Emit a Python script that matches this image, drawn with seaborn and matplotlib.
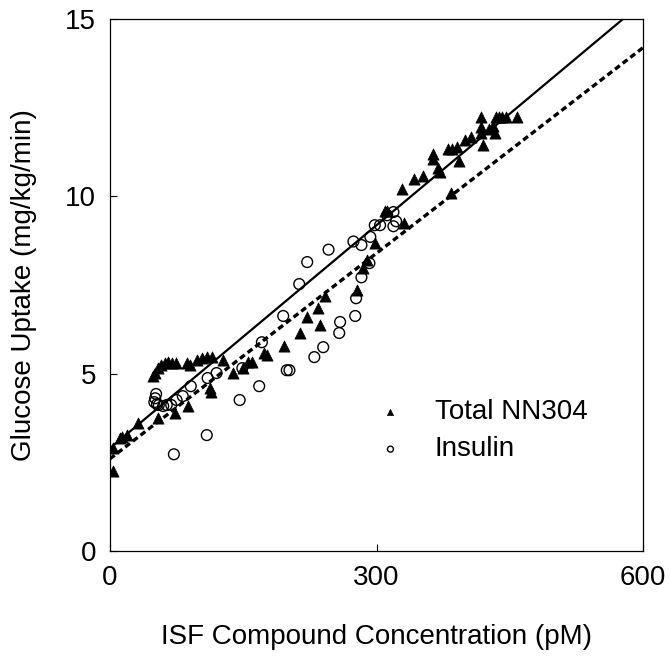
import matplotlib
matplotlib.use("Agg")
import matplotlib.pyplot as plt
import seaborn as sns
import pandas as pd

# dados
nn304_x = [3, 3, 11, 14, 19, 32, 54, 73, 88, 113, 114,
           48, 51, 54, 58, 62, 65, 70, 74,
           87, 90, 98, 104, 109, 115, 127, 138, 150, 155, 160,
           173, 177, 196, 214, 222, 234, 236, 242, 278, 285, 289, 298,
           310, 312, 331, 329, 342, 352, 364, 364, 369, 371, 380, 385, 390,
           393, 399, 406, 417, 417, 417, 420, 426, 431, 433, 434, 438, 441,
           446, 458, 384]
nn304_y = [2.26, 2.9, 3.19, 3.21, 3.27, 3.6, 3.75, 3.9, 4.1, 4.6, 4.5,
           4.93, 5.02, 5.16, 5.24, 5.3, 5.33, 5.3, 5.3,
           5.3, 5.24, 5.38, 5.44, 5.47, 5.47, 5.38, 5.02, 5.16, 5.33, 5.33,
           5.58, 5.52, 5.78, 6.15, 6.6, 6.85, 6.37, 7.2, 7.36, 7.98, 8.2, 8.69,
           9.6, 9.6, 9.24, 10.2, 10.5, 10.57, 11.2, 11.07, 10.8, 10.7, 11.33, 11.33, 11.4,
           11.0, 11.59, 11.67, 12.23, 11.95, 11.8, 11.45, 11.9, 11.98, 11.78, 12.23, 12.23, 12.23,
           12.23, 12.23, 10.1]

insulin_x = [52, 51, 50, 53, 55, 60, 64, 69, 75, 82, 91, 72, 109, 110, 120,
             146, 149, 168, 171, 195, 199, 202, 213, 222, 230, 240, 246,
             258, 259, 274, 276, 277, 283, 283, 292, 293, 298, 304,
             312, 319, 322, 319]
insulin_y = [4.43, 4.31, 4.2, 4.14, 4.12, 4.09, 4.12, 4.12, 4.26, 4.37, 4.65, 2.73, 3.27, 4.88, 5.02,
             4.26, 5.16, 4.65, 5.89, 6.63, 5.1, 5.1, 7.53, 8.15, 5.47, 5.75, 8.5,
             6.15, 6.46, 8.73, 6.63, 7.13, 7.72, 8.63, 8.12, 8.86, 9.19, 9.19,
             9.47, 9.56, 9.3, 9.16]

# retas de regressao
fit_x = [0, 600]
fit_nn304 = [2.9, 15.48]
fit_insulin = [2.6, 14.2]

df_nn = pd.DataFrame({'x': nn304_x, 'y': nn304_y})
df_ins = pd.DataFrame({'x': insulin_x, 'y': insulin_y})
df_fit = pd.DataFrame({'x': fit_x, 'nn': fit_nn304, 'ins': fit_insulin})

sns.set_style("ticks", {'axes.edgecolor': 'black', 'text.color': 'black',
                        'axes.labelcolor': 'black', 'xtick.color': 'black',
                        'ytick.color': 'black'})
plt.rcParams['font.family'] = ['Liberation Sans', 'DejaVu Sans']

fig, ax = plt.subplots(figsize=(6.7, 6.6), dpi=100)
fig.subplots_adjust(left=0.164, right=0.96, bottom=0.165, top=0.971)

sns.lineplot(data=df_fit, x='x', y='nn', ax=ax, color='black', lw=1.6, legend=False)
sns.lineplot(data=df_fit, x='x', y='ins', ax=ax, color='black', lw=2.4, legend=False)
ax.lines[-1].set_linestyle((0, (1.8, 1.1)))

sns.scatterplot(data=df_nn, x='x', y='y', ax=ax, marker='^', s=65, color='black',
                edgecolor='black', linewidth=0.5, label='Total NN304')
sns.scatterplot(data=df_ins, x='x', y='y', ax=ax, marker='o', s=60, facecolor='none',
                edgecolor='black', linewidth=1.0, label='Insulin')

ax.set_xlim(0, 600)
ax.set_ylim(0, 15)
ax.set_xticks([0, 300, 600])
ax.set_yticks([0, 5, 10, 15])
ax.tick_params(direction='in', length=5, width=0.8, labelsize=20, pad=10)
for s in ax.spines.values():
    s.set_linewidth(0.9)
    s.set_visible(True)

ax.set_xlabel('ISF Compound Concentration (pM)', fontsize=20, labelpad=24)
ax.set_ylabel('Glucose Uptake (mg/kg/min)', fontsize=20, labelpad=20)

leg = ax.legend(loc='center left', bbox_to_anchor=(0.5, 0.226), frameon=False,
                fontsize=20, handlelength=1.0, handletextpad=1.1, borderpad=0,
                borderaxespad=0, labelspacing=0.4, markerscale=0.55)

plt.savefig('out.png', dpi=100)
